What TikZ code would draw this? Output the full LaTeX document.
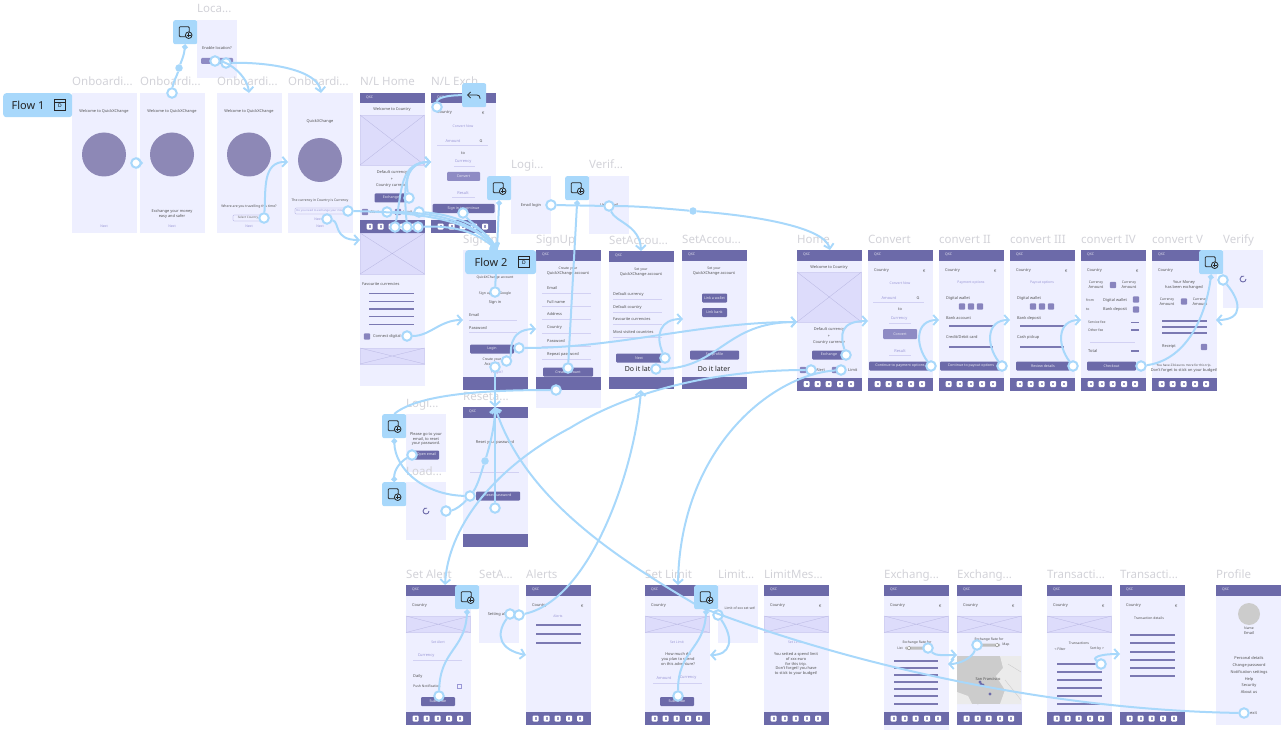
\documentclass[tikz,border=0pt]{standalone}
\usepackage{fontspec}
\setmainfont{Noto Sans}
\usetikzlibrary{arrows.meta}
\definecolor{paper}{HTML}{EEEFFF}
\definecolor{barc}{HTML}{6C6AA9}
\definecolor{imgc}{HTML}{DDDCFB}
\definecolor{diskc}{HTML}{8D88B6}
\definecolor{wirec}{HTML}{A8D8FB}
\definecolor{ttlc}{HTML}{D2D2D8}
\definecolor{hintc}{HTML}{9A97D6}
\definecolor{chipc}{HTML}{8884BE}
\definecolor{litec}{HTML}{8E8BC4}
\definecolor{hairc}{HTML}{D2D1F3}
\newcommand{\more}{.{}.{}.}
\newcommand{\smalltxt}{\fontsize{3.4}{4.4}\selectfont}
\begin{document}
\begin{tikzpicture}[
    x=1pt, y=-1pt,
    scrn/.style={rectangle, fill=paper, anchor=north west, inner sep=0pt, outer sep=0pt},
    ttl/.style={anchor=base west, inner sep=0pt, text=ttlc, font=\fontsize{11.5}{12}\selectfont},
    txt/.style={inner sep=0pt, align=center, text=black!68, font=\fontsize{3.9}{4.8}\selectfont},
    txtl/.style={txt, anchor=west},
    big/.style={inner sep=0pt, text=black!85, font=\fontsize{7}{8}\selectfont},
    hint/.style={txt, text=hintc},
    qxc/.style={anchor=west, inner sep=0pt, text=white!85!barc, font=\fontsize{3.5}{4}\selectfont},
    btn/.style={rectangle, fill=barc, rounded corners=1pt, inner sep=0pt, minimum height=9pt, text=white!85!barc, font=\fontsize{3.6}{4.6}\selectfont},
    rule/.style={draw=barc!90!white, line width=1.25pt},
    hair/.style={draw=hairc, line width=0.6pt},
    img/.style={fill=imgc, draw=hairc, line width=0.4pt},
    chip/.style={fill=chipc, rounded corners=1pt},
    disk/.style={circle, fill=diskc, inner sep=0pt, minimum size=44pt},
    spin/.style={draw=barc, line width=0.9pt},
    tabb/.style={rectangle, fill=wirec, rounded corners=2pt, inner sep=0pt, minimum size=24pt, anchor=north west},
    flow/.style={rectangle, fill=wirec, rounded corners=3pt, inner sep=0pt, minimum height=24pt, anchor=north west},
    flowt/.style={inner sep=0pt, font=\fontsize{11}{12}\selectfont\bfseries, text=black!85},
    ico/.style={draw=black!85, line width=0.8pt},
    hot/.style={circle, fill=white, draw=wirec, line width=2pt, inner sep=0pt, minimum size=9.5pt},
    dotn/.style={circle, fill=wirec, inner sep=0pt, minimum size=7.5pt},
    link/.style={draw=wirec, line width=2pt},
    wire/.style={link, -{Straight Barb[length=4.5pt,width=10pt,line width=1.9pt]}},
    tabwire/.style={link, {Circle[length=5.5pt]}-}
]
    \useasboundingbox (0,0) rectangle (1287,730);

    % frames: name/x/y/width/height/title
    \foreach \n/\x/\y/\w/\h/\t in {
        loca/197/20/40/58/Loca\more,
        onbA/72/93/64.5/140/Onboardi\more,
        onbB/140/93/64.5/140/Onboardi\more,
        onbC/217/93/64.5/140/Onboardi\more,
        onbD/288/93/64.5/140/Onboardi\more,
        nlhome/360/93/64.5/293/{N/L Home},
        nlexch/431/93/64.5/140/{N/L Exch},
        logiA/511/176/40/58/Logi\more,
        verifA/589/176/40/58/Verif\more,
        signin/463/250/64.5/140/SignIn,
        signup/536/250/64.5/158/SignUp,
        setA/609/251/64.5/138/SetAccou\more,
        setB/682/250/64.5/139/SetAccou\more,
        home/797/250/64.5/140/Home,
        conA/868/250/64.5/140/Convert,
        conB/939/250/64.5/140/convert II,
        conC/1010/250/64.5/140/convert III,
        conD/1081/250/64.5/140/convert IV,
        conE/1152/250/64.5/140/convert V,
        verifB/1223/250/40/58/Verify,
        reset/463/407/64.5/140/Reseta\more,
        logiB/406/414/40/58/Logi\more,
        load/406/482/40/58/Load\more,
        alert/406/585/64.5/140/Set Alert,
        seta/479/585/40/58/SetA\more,
        alerts/526/585/64.5/140/Alerts,
        limit/645/585/64.5/140/Set Limit,
        limok/718/585/40/58/Limit\more,
        limmes/764/585/64.5/140/LimitMes\more,
        excA/884/585/64.5/145/Exchang\more,
        excB/957/585/64.5/140/Exchang\more,
        traA/1047/585/64.5/140/Transacti\more,
        traB/1120/585/64.5/140/Transacti\more,
        prof/1216/585/64.5/140/Profile} {
        \node[scrn, minimum width=\w, minimum height=\h] (\n) at (\x,\y) {};
        \node[ttl] (\n ttl) at (\x,\y-7) {\t};
    }

    % top bars
    \foreach \x/\y [count=\i] in {360/93, 431/93, 536/250, 609/251, 682/250, 797/250, 868/250, 939/250, 1010/250, 1081/250, 1152/250,
        463/407, 406/585, 526/585, 645/585, 764/585, 884/585, 957/585, 1047/585, 1120/585, 1216/585} {
        \fill[barc] (\x,\y) rectangle ++(64.5,10.5);
        \node[qxc] (qxc\i) at (\x+6,\y+5) {QXC};
    }
    % bottom bars without icons
    \foreach \x/\y/\h in {463/377/13, 536/377/13, 609/377/12, 682/377/12, 463/534/13} {
        \fill[barc] (\x,\y) rectangle ++(64.5,\h);
    }
    % nav bars
    \foreach \x/\y in {360/220, 431/220, 797/377.5, 868/377.5, 939/377.5, 1010/377.5, 1081/377.5, 1152/377.5,
        406/712, 526/712, 645/712, 764/712, 884/712, 957/712, 1047/712, 1120/712} {
        \fill[barc] (\x,\y) rectangle ++(64.5,13);
        \foreach \d in {9.7,20.7,31.7,43,54} {
            \fill[white, rounded corners=1pt] (\x+\d-3,\y+3.5) rectangle ++(6,6);
            \fill[barc!70!white] (\x+\d-1.2,\y+5.3) rectangle ++(2.4,2.4);
        }
    }
    % wireframe images
    \foreach \x/\y/\h in {360/115/50, 360/233/41, 360/348/16, 797/272/50, 406/616/16.5, 645/616/16.5, 764/616/16.5, 884/616/16.5, 957/616/16.5, 1047/616/16.5} {
        \draw[img] (\x,\y) rectangle ++(64.5,\h);
        \draw[hintc!70, line width=0.3pt] (\x,\y) -- ++(64.5,\h) (\x+64.5,\y) -- ++(-64.5,\h);
    }
    % onboarding discs
    \foreach \n/\x/\y in {dA/104/154.5, dB/172/154.5, dC/249/154.5, dD/320/160} {
        \node[disk] (\n) at (\x,\y) {};
    }

    % map
    \fill[black!20] (957,656) rectangle (1021,704);
    \fill[black!8] (1021,656) -- (1000,656) -- (1003,668) -- (996,676) -- (1005,690) -- (1000,704) -- (1021,704) -- cycle;
    \fill[black!8] (957,692) -- (968,696) -- (972,704) -- (957,704) -- cycle;
    \foreach \a/\b/\c/\d in {957/664/985/670, 985/670/1000/660, 970/656/978/705, 957/680/975/686, 1005/680/1021/700, 1008/664/1021/672} {
        \draw[white!80!black, line width=0.4pt] (\a,\b) -- (\c,\d);
    }
    \foreach \x/\y in {980/682, 981/684, 983/685, 990/694} {
        \fill[barc] (\x,\y) circle (1.6);
    }
    % avatar
    \fill[black!20] (1249,614) circle (11);

    % thick rules
    \foreach \a/\b/\y in {369/414/293.7, 369/414/301.3, 369/414/309, 369/414/316.7, 369/414/324.3,
        949/993/326, 949/993/347, 1020/1064/326, 1020/1064/347, 1131/1139/322.5, 1131/1139/330, 1131/1139/351,
        1162/1207/321, 1162/1207/327, 1162/1207/333,
        536/581/625, 536/581/634, 536/581/643,
        894/938/661, 894/938/668, 894/938/675, 894/938/682, 894/938/689, 894/938/696, 894/938/704,
        1057/1102/664, 1057/1102/672, 1057/1102/680, 1057/1102/688, 1057/1102/696, 1057/1102/704,
        1130/1175/635, 1130/1175/643, 1130/1175/652, 1130/1175/660, 1130/1175/668, 1130/1175/676} {
        \draw[rule] (\a,\y) -- (\b,\y);
    }
    % hairlines under fields
    \foreach \a/\b/\y in {437/488/145, 454/475/166, 452/475/197, 469/517/320, 469/517/332,
        542/591/293, 542/591/306, 542/591/319, 542/591/333, 542/591/346, 542/591/359,
        613/662/299, 613/662/312, 613/662/324, 613/662/337,
        873/924/302, 889/911/323, 889/911/355, 1090/1135/342,
        470/519/472, 413/462/660, 653/702/683} {
        \draw[hair] (\a,\y) -- (\b,\y);
    }
    % small squares
    \foreach \x/\y in {365/212, 398/212, 367/336.5, 803/370, 835/370,
        962/306.5, 971/306.5, 980/306.5, 1033/306.5, 1042/306.5, 1051/306.5,
        1113/285, 1136/299.5, 1136/309.5, 1184/301.5, 1204/347} {
        \fill[chip] (\x-3.2,\y-3.2) rectangle ++(6.4,6.4);
    }
    % buttons: x/y/width/text
    \foreach \x/\y/\w/\t [count=\i] in {
        391/198/33/Exchange, 463.5/208.5/62/Sign in to continue,
        492/349/44/Login, 568/372/50/Create account,
        639/358/46/Next, 714.5/355/49/Set profile,
        714.5/298/25/Link a wallet, 714.5/312.5/25/Link bank,
        829/355/34/Exchange, 900/366/62/Continue to payment options,
        971/366/62/Continue to payout options, 1043/366/54/Review details,
        1111.5/366/49/Checkout, 426.5/455/25/Open email,
        498/496/44/Reset password, 438/701.5/34/Subscribe, 677/701.5/34/Subscribe} {
        \node[btn, minimum width=\w] (btn\i) at (\x,\y) {\t};
    }
    \node[btn, minimum width=33, fill=litec] (btnExch) at (463.5,176.5) {Convert};
    \node[btn, minimum width=34, minimum height=10, fill=litec] (btnConv) at (900,334) {Convert};
    \node[btn, minimum width=32, minimum height=6, fill=litec] (btnLoca) at (217,61) {};
    \node[rectangle, draw=hintc, line width=0.3pt, rounded corners=1pt, minimum width=30, minimum height=6, inner sep=0pt, text=black!60, font=\fontsize{3}{4}\selectfont] (boxCountry) at (248,218) {Select Country};
    \node[rectangle, draw=hintc, line width=0.3pt, rounded corners=1pt, minimum width=54, minimum height=6, inner sep=0pt, text=hintc, font=\fontsize{2.8}{4}\selectfont] (boxMoney) at (322,211) {Do you need to exchange your money?};

    % centred texts
    \foreach \x/\y/\t [count=\i] in {
        217/48.5/Enable location?,
        104/111/Welcome to QuickXChange, 172/111/Welcome to QuickXChange, 249/111/Welcome to QuickXChange,
        320/121/QuickXChange, 172/214/{Exchange your money\\easy and safer},
        249/207/\smalltxt Where are you travelling this time?, 320/201/\smalltxt The currency in Country is Currency,
        392/109.5/Welcome to Country, 392/172/Default currency, 392/179/+, 392/186/Country currency,
        463/153/to, 531/205/Email login, 609/205/Use email,
        495/278/\smalltxt QuickXChange account, 495/303/Sign in, 495/294/\smalltxt Sign up with Google, 492/362/{\smalltxt Create your\\Account},
        568/271/{\smalltxt Create your\\QuickXChange account}, 641/272/{\smalltxt Set your\\QuickXChange account}, 714/271/{\smalltxt Set your\\QuickXChange account},
        829/267/Welcome to Country, 829/329.5/Default currency, 829/336/+, 829/343/Country currency,
        900/309/to, 1096/285/{\smalltxt Currency\\Amount}, 1129/285/{\smalltxt Currency\\Amount},
        1184/285/{Your Money\\has been exchanged}, 1167/302/{\smalltxt Currency\\Amount}, 1200/302/{\smalltxt Currency\\Amount},
        1184/368/{\fontsize{3.1}{4.4}\selectfont You have 234 euros more for this trip.\\Don't forget to stick on your budget!},
        495/442/Reset your password, 426/439/{Please go to your\\email, to reset\\your password.},
        499/614/Setting alert, 678/659/{How much do\\you plan to spend\\on this adventure?},
        740/608/\smalltxt Limit of xxx set set!, 796/664/{You setted a spend limit\\of xxx euro\\for this trip.\\Don't forget! you have\\to stick to your budget!},
        917/643/\smalltxt Exchange Rate for, 989/640/\smalltxt Exchange Rate for, 900/648/\smalltxt List, 1006/645/\smalltxt Map,
        1079/643/\smalltxt Transactions, 1060/649/\smalltxt < Filter, 1097/649/\smalltxt Sort by >, 1149/618.5/\smalltxt Transaction details,
        988/679/San Francisco, 1249/631/{\smalltxt Name\\Email},
        1249/658.5/Personal details, 1249/665/Change password, 1249/672/Notification settings, 1249/679/Help, 1249/685.5/Security, 1249/692.5/About us} {
        \node[txt] (lab\i) at (\x,\y) {\t};
    }
    % left aligned texts
    \foreach \x/\y/\t [count=\i] in {
        370/212/Alert, 403/212/Limit, 362/284/Favourite currencies, 373/336.5/Connect digital wallet,
        469/315/Email, 469/328/Password, 547/288/Email, 547/302/Full name, 547/314/Address, 547/328/Country, 547/341/Password, 547/354/Repeat password,
        613/294/Default currency, 613/307/Default country, 613/319/Favourite currencies, 613/332/Most visited countries,
        816/370/Alert, 848/370/Limit,
        946/298/Digital wallet, 946/318/Bank account, 946/337/{Credit/Debit card},
        1017/298/Digital wallet, 1017/318/Bank deposit, 1017/337/Cash pickup,
        1086/300/\smalltxt from, 1103/300/Digital wallet, 1086/309.5/\smalltxt to, 1103/309.5/Bank deposit,
        1088/322/\smalltxt Service fee, 1088/330/\smalltxt Other fee, 1162/347/Receipt,
        413/676/Daily, 413/686/\smalltxt Push Notification,
        437/113/Country, 482/113/€, 874/271/Country, 923/271/€, 945/271/Country, 994/271/€, 1016/271/Country, 1065/271/€, 1087/271/Country, 1136/271/€, 1158/271/Country, 1207/271/€,
        412/606/Country, 532/606/Country, 581/606/€, 651/606/Country, 770/606/Country, 819/606/€,
        890/606/Country, 939/606/€, 963/606/Country, 1012/606/€, 1053/606/Country, 1102/606/€, 1126/606/Country, 1175/606/€} {
        \node[txtl] (lft\i) at (\x,\y) {\t};
    }
    % hint texts
    \foreach \x/\y/\t [count=\i] in {
        104/226/\smalltxt Next, 172/226/\smalltxt Next, 249/226/\smalltxt Next, 320/226/\smalltxt Next, 318/219/\smalltxt Next,
        463/126/\smalltxt Convert Now, 453/141/Amount, 463/162/Currency, 463/193/Result, 497/373/\smalltxt Forgot?,
        900/283/\smalltxt Convert Now, 889/298/Amount, 899/319/Currency, 900/351/Result, 971/283/\smalltxt Payment options, 1042/283/\smalltxt Payout options,
        438/642/\smalltxt Set Alert, 426/656/Currency, 558/616/\smalltxt Alerts, 677/642/\smalltxt Set Limit, 664/678/Amount, 688/678/Currency, 795/642/\smalltxt Set Limit} {
        \node[hint] (hnt\i) at (\x,\y) {\t};
    }
    \node[txt] (labG) at (481,141) {G};
    \node[txt] (labGG) at (918,298) {G};
    \node[txtl, font=\fontsize{4}{4.8}\selectfont\bfseries] (labTotal) at (1088,351) {Total};
    \node[txtl, font=\fontsize{4}{4.8}\selectfont\bfseries] (labExit) at (1250,713) {exit};
    \node[big] (laterA) at (641,369) {Do it later};
    \node[big] (laterB) at (714,369) {Do it later};
    % checkbox and slider details
    \draw[hintc, line width=0.3pt] (457,684) rectangle ++(4,4);
    \fill[black!25, rounded corners=1pt] (905,646.5) rectangle ++(28,3);
    \draw[black!50, fill=white, line width=0.3pt] (909,648) circle (1.8);
    \fill[black!25, rounded corners=1pt] (975,643.5) rectangle ++(25,3);
    \draw[black!50, fill=white, line width=0.3pt] (997,645) circle (1.8);
    % spinners
    \foreach \x/\y in {1243/279, 426/511} {
        \draw[spin] (\x+3,\y) arc (0:290:3);
    }

    % tabs
    \foreach \n/\x/\y in {tLoca/173/20, tLogi/487/176, tVer/565/176, tVerify/1199/250, tLogiB/382/414, tLoad/382/482, tAlert/455/585, tLimit/694/585} {
        \node[tabb] (\n) at (\x,\y) {};
        \begin{scope}[shift={(\n.center)}]
            \draw[ico, rounded corners=1pt] (-6,-5.5) rectangle (4,4.5);
            \draw[ico, fill=wirec] (3.5,3) circle (3.3);
            \draw[ico, line width=0.5pt] (1.5,3) -- (5.5,3) (3.5,1) -- (3.5,5);
        \end{scope}
    }
    \node[tabb] (tBack) at (462,83) {};
    \draw[ico, -{Straight Barb[length=3pt,width=6pt]}, rounded corners=3pt] (480,99) -- (480,95) -- (467,95);

    % hotspots
    \foreach \n/\x/\y in {hLocaA/215/61, hLocaB/226/63, hOnbB/172/93, hOnbA/136/163, hOnbC/264/218, hOnbD/348/211, hOnbE/327/219,
        hNlEx/409/198, hNlAlert/387/212, hNlLimit/419/212, hNlNavA/395/227, hNlNavB/407/227, hNlNavC/418/227, hNlWallet/407/336,
        hExBack/437/107, hExSign/463/213, hLogiMail/551/205, hVerMail/609/206,
        hSignTop/495/292, hSignLogin/519/348, hSignCreate/506.5/361, hSignForgot/495/367,
        hUpCreate/568/368, hUpLogin/556/390, hSetNext/665/358, hSetLater/656/369,
        hResetTop/495/508, hResetBtn/470/496, hLoad/446/511, hLogiOpen/412/455,
        hHomeEx/846/355, hHomeAlert/811/370, hHomeLimit/841/370,
        hConA/931/366, hConB/1002/366, hConC/1073/366, hConD/1141/366, hVerify/1223/280,
        hAlertSub/439/696, hSetA/510/614, hSetB/519/615, hLimSub/678/696, hLimOk/718/615,
        hExcA/928/648, hExcB/977/645, hTra/1101/664, hProfile/1244/713} {
        \node[hot] (\n) at (\x,\y) {};
    }
    % midway dots
    \node[dotn] (dLoca) at (179,68) {};
    \node[dotn] (dVer) at (693,211) {};
    \node[dotn] (dRes) at (485,461) {};

    % arrow targets
    \foreach \n/\x/\y in {aOnbC/249/93, aOnbD/321/93, aOnbB/143/163, aOnbE/288/162, aNlScroll/360/240, aExch/431/162, aSign/497/250,
        aSignMail/463/320, aSignUp/536/329, aHome/797/322, aHomeTop/830/250, aSetTop/641/251, aSetBot/641/390, aSetB/683/319,
        aReset/495/407, aAlertTop/445/585, aLimitTop/678/585, aConvA/868/321, aConvB/939/320, aConvC/1010/320, aConvD/1081/320,
        aConvE/1216/320, aAlerts/526/655, aLimMid/710/655, aExcA/957/655, aExcB/948/664, aTra/1120/654,
        bAlert/570/428, bLog/700/607} {
        \coordinate (\n) at (\x,\y);
    }

    % connectors, first row
    \draw[tabwire] (tLoca.south) .. controls (184,56) and (181,62) .. (dLoca);
    \draw[link] (dLoca) .. controls (177,76) and (173,82) .. (hOnbB);
    \draw[wire] (hLocaA) .. controls (228,62) and (247,75) .. (aOnbC);
    \draw[wire] (hLocaB) .. controls (270,62) and (318,70) .. (aOnbD);
    \draw[wire] (hOnbA) -- (aOnbB);
    \draw[wire] (hOnbC) .. controls (266,190) and (262,161) .. (aOnbE);
    \draw[wire] (hOnbE) .. controls (340,222) and (333,240) .. (aNlScroll);
    \draw[wire] (hOnbD) .. controls (400,212) and (470,215) .. (aSign);
    \draw[wire] (hNlAlert) .. controls (430,212) and (475,220) .. (aSign);
    \draw[wire] (hNlLimit) .. controls (450,214) and (485,225) .. (aSign);
    \draw[wire] (hNlNavC) .. controls (460,225) and (480,235) .. (aSign);
    \draw[wire] (hNlNavA) .. controls (402,190) and (400,162) .. (aExch);
    \draw[wire] (hNlNavB) .. controls (404,190) and (402,162) .. (aExch);
    \draw[wire] (hNlEx) .. controls (405,180) and (408,162) .. (aExch);
    \draw[wire] (hExSign) .. controls (470,222) and (490,235) .. (aSign);
    \draw[link] (hExBack) .. controls (437,98) and (448,95) .. (tBack.west);
    \draw[wire] (hNlWallet) .. controls (430,336) and (440,320) .. (aSignMail);

    % login and verification
    \draw[tabwire] (tLogi.south) -- (hSignTop);
    \draw[link] (hLogiMail) -- (hVerMail);
    \draw[link] (hVerMail) .. controls (640,206) and (670,209) .. (dVer);
    \draw[wire] (dVer) .. controls (760,216) and (825,228) .. (aHomeTop);
    \draw[wire] (hVerMail) .. controls (615,222) and (640,225) .. (aSetTop);
    \draw[tabwire] (tVer.south) -- (hUpCreate);
    \draw[wire] (hSignLogin) .. controls (620,348) and (700,322) .. (aHome);
    \draw[wire] (hSignCreate) .. controls (512,355) and (506,329) .. (aSignUp);
    \draw[wire] (hSignForgot) -- (aReset);
    \draw[wire] (hSetNext) .. controls (655,335) and (660,319) .. (aSetB);
    \draw[wire] (hSetLater) .. controls (720,368) and (725,322) .. (aHome);

    % reset password
    \draw[link] (hUpLogin) .. controls (500,390) and (420,392) .. (tLogiB.north);
    \draw[tabwire] (tLogiB.south) .. controls (395,470) and (425,495) .. (hResetBtn);
    \draw[tabwire] (tLoad.north) .. controls (394,470) and (400,462) .. (hLogiOpen);
    \draw[link] (hLoad) .. controls (455,510) and (462,505) .. (hResetBtn);
    \draw[link] (hResetBtn) .. controls (478,485) and (482,470) .. (dRes);
    \draw[wire] (dRes) .. controls (490,445) and (495,425) .. (aReset);
    \draw[wire] (hResetTop) -- (aReset);
    \draw[wire] (hProfile) .. controls (1050,710) and (850,665) .. (bLog) .. controls (620,560) and (525,500) .. (aReset);

    % home and convert
    \draw[wire] (hHomeAlert) .. controls (730,370) and (640,385) .. (bAlert) .. controls (490,470) and (448,530) .. (aAlertTop);
    \draw[wire] (hHomeLimit) .. controls (770,375) and (680,450) .. (aLimitTop);
    \draw[wire] (hHomeEx) .. controls (840,335) and (840,321) .. (aConvA);
    \draw[wire] (hConA) .. controls (915,345) and (915,320) .. (aConvB);
    \draw[wire] (hConB) .. controls (986,345) and (986,320) .. (aConvC);
    \draw[wire] (hConC) .. controls (1057,345) and (1057,320) .. (aConvD);
    \draw[tabwire] (tVerify.south) .. controls (1205,320) and (1185,360) .. (hConD);
    \draw[wire] (hVerify) .. controls (1240,300) and (1245,320) .. (aConvE);

    % bottom row
    \draw[tabwire] (tAlert.south) .. controls (465,650) and (440,650) .. (hAlertSub);
    \draw[tabwire] (tLimit.south) .. controls (704,650) and (678,650) .. (hLimSub);
    \draw[wire] (hSetB) .. controls (590,600) and (635,470) .. (aSetBot);
    \draw[wire] (hSetA) .. controls (495,635) and (500,650) .. (aAlerts);
    \draw[wire] (hLimOk) .. controls (735,640) and (730,655) .. (aLimMid);
    \draw[wire] (hExcA) .. controls (935,656) and (945,655) .. (aExcA);
    \draw[wire] (hExcB) .. controls (972,658) and (960,664) .. (aExcB);
    \draw[wire] (hTra) .. controls (1092,658) and (1098,654) .. (aTra);

    % flow tags
    \node[flow, minimum width=69] (flowA) at (3,93) {};
    \node[flowt] (flowAt) at (28,105) {Flow 1};
    \draw[ico] (54.5,99.5) rectangle (65.5,110.5) (54.5,102) -- (65.5,102);
    \node[font=\fontsize{5}{6}\selectfont\bfseries, inner sep=0pt] (flowAi) at (60,106) {D};
    \node[flow, minimum width=71] (flowB) at (465,250) {};
    \node[flowt] (flowBt) at (491,262) {Flow 2};
    \draw[ico] (518.5,256.5) rectangle (529.5,267.5) (518.5,259) -- (529.5,259);
    \node[font=\fontsize{5}{6}\selectfont\bfseries, inner sep=0pt] (flowBi) at (524,263) {D};
\end{tikzpicture}
\end{document}
